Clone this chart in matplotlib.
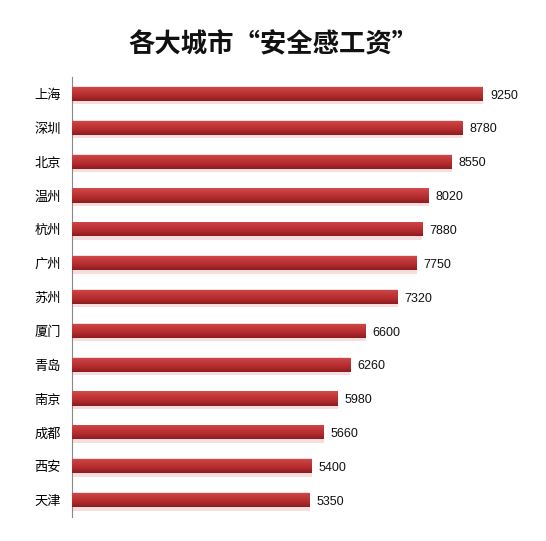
import numpy as np
import matplotlib
matplotlib.use("Agg")
import matplotlib.pyplot as plt
from matplotlib.colors import LinearSegmentedColormap

plt.rcParams['font.family'] = ['Noto Sans CJK SC', 'DejaVu Sans']

# 数据
cities = ["上海", "深圳", "北京", "温州", "杭州", "广州", "苏州",
          "厦门", "青岛", "南京", "成都", "西安", "天津"]
salary = [9250, 8780, 8550, 8020, 7880, 7750, 7320,
          6600, 6260, 5980, 5660, 5400, 5350]
title = "各大城市“安全感工资”"

fig = plt.figure(figsize=(5.46, 5.41), dpi=100)
# 坐标轴区域（像素换算）
W, H = 546, 541
ax = fig.add_axes([72.3 / W, 1 - 517 / H, (538.8 - 72.3) / W, (517 - 77) / H])

y = np.arange(len(cities))
bar_h = 0.42

# 阴影
ax.barh(y + 0.04, salary, height=bar_h + 0.12, left=0, color="#f6dede",
        edgecolor="none", zorder=1)
bars = ax.barh(y, salary, height=bar_h, color="#b8302f", edgecolor="none", zorder=2)

# 渐变填充（上亮下暗）
cmap = LinearSegmentedColormap.from_list(
    "redgrad", ["#d24c4c", "#c63c3d", "#bb3234", "#a82629", "#8c1c1f"])
grad = np.linspace(0, 1, 64).reshape(-1, 1)
for b in bars:
    x0, y0 = b.get_x(), b.get_y()
    w, h = b.get_width(), b.get_height()
    im = ax.imshow(grad, aspect="auto", cmap=cmap, origin="lower",
                   extent=[x0, x0 + w, y0, y0 + h], zorder=3)
    im.set_clip_path(b)

for yi, v in zip(y, salary):
    ax.text(v + 150, yi + 0.05, str(v), va="center", ha="left",
            fontsize=9, family=["Liberation Sans", "DejaVu Sans"], color="#111111")

ax.set_xlim(0, 10500)
ax.set_ylim(len(cities) - 0.5, -0.5)
ax.set_yticks(y)
ax.set_yticklabels(cities, fontsize=9.5)
ax.set_xticks([])
ax.tick_params(axis="y", length=0, pad=8)
for s in ["top", "right", "bottom"]:
    ax.spines[s].set_visible(False)
ax.spines["left"].set_color("#888888")
ax.spines["left"].set_linewidth(0.8)

fig.text(0.5, 1 - 45 / H, title, ha="center", va="center",
         fontsize=19, fontweight="bold", color="#111111")

fig.savefig("out.png", dpi=100)
